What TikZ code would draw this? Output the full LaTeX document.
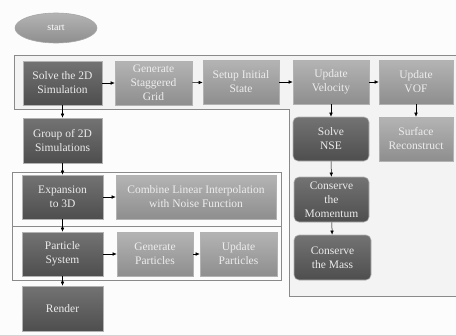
\documentclass[tikz,border=0pt]{standalone}
\usepackage{fontspec}
\setmainfont{Liberation Serif}
\usetikzlibrary{arrows.meta,shapes.geometric}
\definecolor{bg}{HTML}{FCFCFC}
\definecolor{framefill}{HTML}{F3F3F3}
\definecolor{framedraw}{HTML}{8A8A8A}
\definecolor{darktop}{HTML}{737373}
\definecolor{darkbot}{HTML}{4E4E4E}
\definecolor{lighttop}{HTML}{B4B4B4}
\definecolor{lightbot}{HTML}{8E8E8E}
\definecolor{lighttext}{HTML}{EDEDED}
\tikzset{
  base/.style={align=center, inner sep=1pt, font=\fontsize{11.5}{14}\selectfont,
    draw=gray!60, line width=0.6pt},
  darkbox/.style={base, top color=darktop, bottom color=darkbot, text=white!92!black},
  lightbox/.style={base, top color=lighttop, bottom color=lightbot, text=lighttext},
  roundbox/.style={darkbox, rounded corners=5pt},
  arr/.style={-{Latex[length=4pt,width=3.5pt]}, line width=0.5pt, black},
  frame/.style={draw=framedraw, line width=0.7pt},
}
\newcommand{\bx}[6]{\node[#1, minimum width=#4pt, minimum height=#5pt] (#2) at (#3) {#6};}
\begin{document}
\begin{tikzpicture}[x=1pt,y=-1pt]
\useasboundingbox (0,0) rectangle (456,335);
\fill[bg] (0,0) rectangle (456,335);
% frames
\filldraw[frame, fill=framefill] (14,55) -- (456,55) -- (456,296) -- (289,296) -- (289,109) -- (14,109) -- cycle;
\filldraw[frame, fill=bg] (12,172) rectangle (281,226);
\filldraw[frame, fill=bg] (12,226) rectangle (281,280);
% start
\node[ellipse, minimum width=82pt, minimum height=30pt, inner sep=0pt,
  top color=lighttop, bottom color=lightbot, draw=gray!70, line width=0.6pt,
  text=white, font=\fontsize{10}{12}\selectfont] (start) at (56,28) {start};
% row 1
\bx{darkbox}{s2d}{62.5,83}{79}{44}{Solve the 2D\\Simulation}
\bx{lightbox}{grid}{153.5,83}{77}{44}{Generate\\Staggered\\Grid}
\bx{lightbox}{setup}{241,82}{76}{44}{Setup Initial\\State}
\bx{lightbox}{vel}{331,82}{76}{44}{Update\\Velocity}
\bx{lightbox}{vof}{416,82}{74}{44}{Update\\VOF}
\bx{roundbox}{nse}{331,139}{76}{44}{Solve\\NSE}
\bx{lightbox}{surf}{416,139}{74}{44}{Surface\\Reconstruct}
\bx{roundbox}{mom}{331.5,199.5}{75}{45}{Conserve\\the\\Momentum}
\bx{roundbox}{mass}{332.5,257.5}{77}{45}{Conserve\\the Mass}
% left column
\bx{darkbox}{group}{62.5,140.5}{79}{45}{Group of 2D\\Simulations}
\bx{darkbox}{exp}{62.5,197}{81}{44}{Expansion\\to 3D}
\bx{lightbox}{comb}{196,197}{160}{44}{Combine Linear Interpolation\\with Noise Function}
\bx{darkbox}{part}{62.5,254}{81}{44}{Particle\\System}
\bx{lightbox}{genp}{155,254}{76}{44}{Generate\\Particles}
\bx{lightbox}{updp}{238.5,254}{77}{44}{Update\\Particles}
\bx{darkbox}{render}{62.5,308.5}{81}{45}{Render}
% arrows
\draw[arr] (s2d) -- (grid);
\draw[arr] (grid) -- (setup);
\draw[arr] (setup) -- (vel);
\draw[arr] (vel) -- (vof);
\draw[arr] (vel) -- (nse);
\draw[arr] (vof) -- (surf);
\draw[arr] (nse) -- (mom);
\draw[arr] (mom) -- (mass);
\draw[arr] (s2d) -- (group);
\draw[arr] (group) -- (exp);
\draw[arr] (exp) -- (comb);
\draw[arr] (exp) -- (part);
\draw[arr] (part) -- (genp);
\draw[arr] (genp) -- (updp);
\draw[arr] (part) -- (render);
\end{tikzpicture}
\end{document}
